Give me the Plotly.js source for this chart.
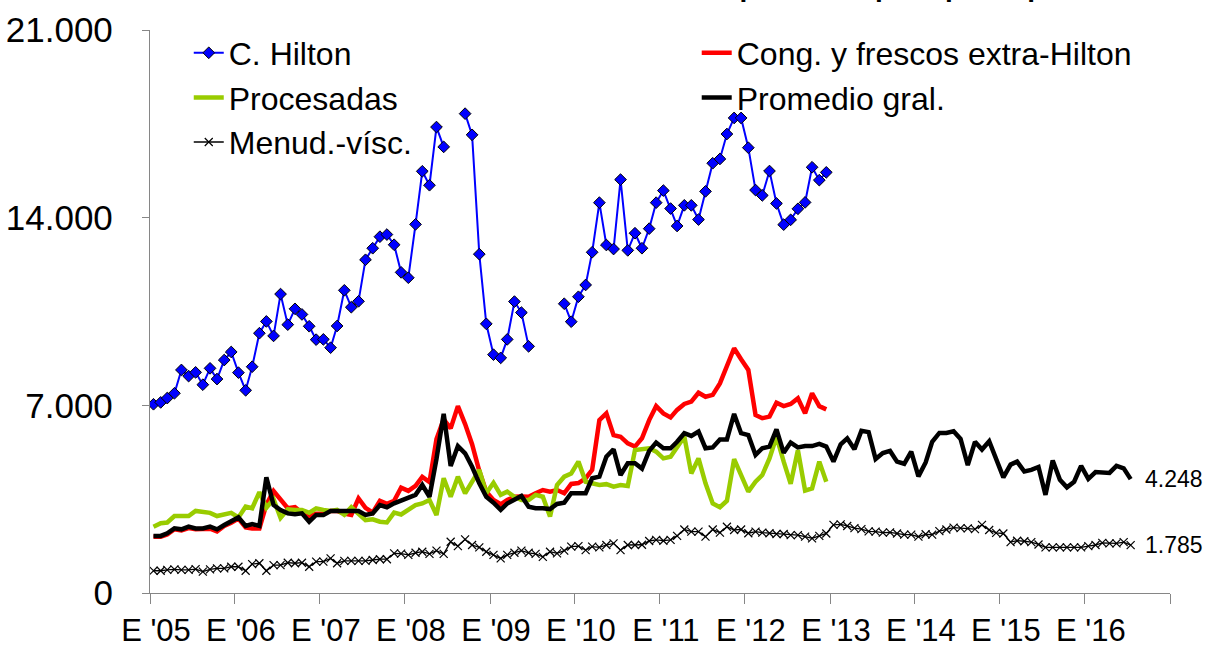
<!DOCTYPE html>
<html>
<head>
<meta charset="utf-8">
<script src="https://cdn.plot.ly/plotly-3.0.1.min.js"></script>
<style>html,body{margin:0;padding:0;background:#fff;}#chart{width:1210px;height:649px;}</style>
</head>
<body>
<div id="chart"></div>
<script>
// Monthly series, Jan 2005 onward
var startYear = 2005;
var yearLabels = ["E '05","E '06","E '07","E '08","E '09","E '10","E '11","E '12","E '13","E '14","E '15","E '16",""];

var hilton = [7040,7110,7270,7450,8320,8090,8230,7770,8380,7980,8690,8990,
  8220,7560,8440,9690,10130,9590,11150,10010,10600,10390,9950,9450,
  9460,9150,9960,11290,10660,10880,12430,12860,13290,13370,12990,11960,
  11760,13750,15730,15210,17380,16640,null,null,17880,17090,12640,10040,
  8890,8770,9460,10870,10460,9200,null,null,null,null,10790,10120,
  11050,11490,12710,14560,12980,12830,15420,12780,13420,12860,13590,14560,
  15010,14340,13690,14460,14460,13930,14980,16030,16190,17120,17720,17720,
  16610,15030,14830,15740,14530,13740,13920,14330,14570,15880,15400,15690];

var congFrescos = [2100,2100,2180,2380,2330,2420,2380,2380,2400,2300,2500,2620,
  2780,2450,2410,2410,3300,3800,3470,3160,3200,2990,2870,2960,
  2960,3060,3060,2960,2910,3530,3180,3000,3440,3330,3440,3930,
  3810,4000,4330,4140,5740,6480,6140,6970,6300,5550,4550,3780,
  3470,3310,3470,3590,3600,3590,3720,3840,3780,3840,3720,4070,
  4100,4280,4590,6450,6700,5890,5830,5580,5460,5770,6450,6970,
  6700,6550,6830,7050,7140,7470,7320,7390,7820,8500,9130,8720,
  8320,6640,6520,6580,7100,6970,7050,7260,6700,7450,6970,6850];

var procesadas = [2470,2600,2630,2870,2870,2870,3060,3030,2990,2870,2910,2990,
  2820,3220,3160,3760,3180,3500,2800,3120,3100,3100,2990,3160,
  3100,3060,3100,2920,3200,2930,2720,2750,2660,2630,3000,2930,
  3100,3280,3340,3470,2910,4280,3590,4340,3720,4150,4590,3720,
  4110,3660,3780,3590,3470,3470,3660,3590,2850,4030,4340,4460,
  4900,4150,4090,4030,4060,3970,4030,3990,5330,5370,5400,5270,
  5020,5080,5460,5830,4460,5020,4090,3340,3200,3440,4990,4340,
  3780,4150,4400,5020,5830,4900,4070,5330,3820,3900,4900,4150];

var promedio = [2130,2130,2225,2410,2375,2475,2410,2410,2475,2375,2536,2660,
  2820,2500,2574,2500,4315,3282,3096,2970,2935,2970,2660,2910,
  2910,3060,3060,3060,3060,3060,2910,2970,3280,3200,3345,3440,
  3530,3660,4030,3590,5000,6680,4740,5480,5210,4710,4090,3590,
  3370,3100,3340,3490,3620,3220,3160,3160,3130,3320,3370,3720,
  3740,3720,4280,4340,5080,5360,4400,4840,4840,4640,5300,5610,
  5400,5400,5640,5960,5860,6020,5400,5430,5730,5730,6680,5960,
  5890,5150,5400,5460,6100,5230,5610,5430,5480,5480,5560,5460,
  4900,5550,5770,5360,6050,6000,5000,5220,5300,4900,4820,5270,
  4350,4870,5640,5970,5970,6030,5750,4770,5640,5350,5660,4990,
  4315,4790,4900,4530,4590,4700,3660,4940,4220,3940,4150,4740,
  4260,4510,4510,4480,4740,4650,4248];

var menudencias = [830,830,860,880,860,860,890,800,880,920,920,980,
  980,830,1080,1110,830,1040,1040,1130,1110,1130,980,1170,
  1170,1290,1110,1200,1200,1200,1200,1230,1260,1260,1480,1470,
  1420,1500,1540,1460,1580,1460,1910,1750,2000,1790,1700,1540,
  1420,1290,1420,1500,1580,1500,1460,1350,1540,1480,1580,1730,
  1750,1600,1730,1700,1790,1850,1600,1790,1790,1800,1940,1980,
  1950,1980,2130,2370,2290,2290,2100,2370,2250,2470,2350,2370,
  2230,2290,2250,2230,2200,2200,2160,2160,2100,2040,2130,2220,
  2540,2560,2500,2420,2380,2300,2290,2250,2260,2220,2180,2180,
  2100,2190,2180,2310,2370,2440,2420,2410,2380,2540,2350,2240,
  2220,1900,1950,1930,1900,1810,1700,1700,1700,1700,1700,1700,
  1750,1790,1870,1850,1850,1900,1785];

function pad(n){return (n<10?'0':'')+n;}
function monthDates(n){
  var out=[];
  for(var i=0;i<n;i++){
    var y=startYear+Math.floor(i/12), m=(i%12)+1;
    out.push(y+'-'+pad(m)+'-16');
  }
  return out;
}
var tickVals = yearLabels.map(function(_,i){return (startYear+i)+'-01-01';});
function fmt(v){return String(v).replace(/\B(?=(\d{3})+(?!\d))/g,'.');}

var FONT = 'Liberation Sans, Arial, sans-serif';

var traces = [
  {name:'C. Hilton', x:monthDates(hilton.length), y:hilton, type:'scatter', mode:'lines+markers',
   connectgaps:false, line:{color:'#0000FF', width:2},
   marker:{symbol:'diamond', size:9, color:'#0000FF', line:{color:'#000', width:1}}, legend:'legend'},
  {name:'Cong. y frescos extra-Hilton', x:monthDates(congFrescos.length), y:congFrescos, type:'scatter', mode:'lines',
   line:{color:'#FF0000', width:4.5}, legend:'legend2'},
  {name:'Procesadas', x:monthDates(procesadas.length), y:procesadas, type:'scatter', mode:'lines',
   line:{color:'#99CC00', width:4.5}, legend:'legend'},
  {name:'Menud.-vísc.', x:monthDates(menudencias.length), y:menudencias, type:'scatter', mode:'lines+markers',
   line:{color:'#000', width:1.3},
   marker:{symbol:'x-thin', size:8, color:'#000', line:{color:'#000', width:1.2}}, legend:'legend'},
  {name:'Promedio gral.', x:monthDates(promedio.length), y:promedio, type:'scatter', mode:'lines',
   line:{color:'#000', width:4.5}, legend:'legend2'}
];

var lastP = promedio.length-1, lastM = menudencias.length-1;
var layout = {
  width:1210, height:649,
  margin:{l:150, r:40, t:30, b:56},
  paper_bgcolor:'#fff', plot_bgcolor:'#fff',
  separators:',.',
  font:{family:FONT, color:'#000'},
  showlegend:true,
  xaxis:{type:'date', range:['2005-01-01','2017-01-01'], tickmode:'array', tickvals:tickVals, ticktext:yearLabels,
    showgrid:false, zeroline:false, showline:true, linecolor:'#868686', linewidth:1.3,
    ticks:'outside', ticklen:10, tickcolor:'#868686', tickwidth:1.3,
    tickfont:{family:FONT, size:31, color:'#000'}, ticklabelshift:6, ticklabelstandoff:0},
  yaxis:{range:[0,21000], tickmode:'array', tickvals:[0,7000,14000,21000], tickformat:',d',
    showgrid:false, zeroline:false, showline:true, linecolor:'#868686', linewidth:1.3,
    ticks:'outside', ticklen:7, tickcolor:'#868686', tickwidth:1.3,
    tickfont:{family:FONT, size:35, color:'#000'}, ticklabelstandoff:22},
  legend:{x:0.038, y:1.008, xanchor:'left', yanchor:'top', bgcolor:'rgba(0,0,0,0)',
    font:{family:FONT, size:32, color:'#000'}, itemwidth:30, tracegroupgap:0},
  legend2:{x:0.536, y:1.008, xanchor:'left', yanchor:'top', bgcolor:'rgba(0,0,0,0)',
    font:{family:FONT, size:32, color:'#000'}, itemwidth:30, tracegroupgap:0},
  annotations:[
    {x:monthDates(promedio.length)[lastP], y:promedio[lastP], xref:'x', yref:'y', text:fmt(promedio[lastP]),
     showarrow:false, xanchor:'left', yanchor:'middle', xshift:12, font:{family:FONT, size:23, color:'#000'}},
    {x:monthDates(menudencias.length)[lastM], y:menudencias[lastM], xref:'x', yref:'y', text:fmt(menudencias[lastM]),
     showarrow:false, xanchor:'left', yanchor:'middle', xshift:12, font:{family:FONT, size:23, color:'#000'}},
    {x:0.69, y:1.046, xref:'paper', yref:'paper', text:'<b>Precios de exportación por tipo de producto</b>',
     showarrow:false, xanchor:'center', yanchor:'bottom', font:{family:FONT, size:28, color:'#000'}}
  ]
};

Plotly.newPlot('chart', traces, layout, {displayModeBar:false, responsive:false});
</script>
</body>
</html>
